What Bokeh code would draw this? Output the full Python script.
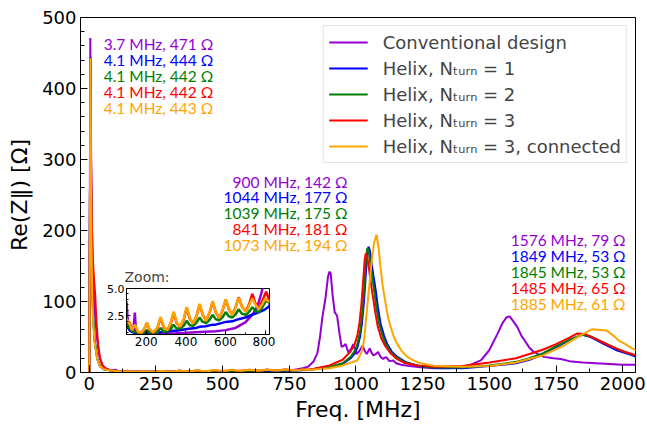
from bokeh.plotting import figure
from bokeh.models import (Range1d, SingleIntervalTicker, FixedTicker, Legend, LegendItem,
                          ColumnDataSource, PrintfTickFormatter)
from bokeh.core.properties import value
from bokeh.embed import file_html
from bokeh.resources import INLINE

# ---------------- data ----------------
series_names = ["Conventional design", "Helix, N\u209c\u1d64\u1d63\u2099 = 1", "Helix, N\u209c\u1d64\u1d63\u2099 = 2",
                "Helix, N\u209c\u1d64\u1d63\u2099 = 3", "Helix, N\u209c\u1d64\u1d63\u2099 = 3, connected"]
series_colors = ["darkviolet", "blue", "green", "red", "orange"]

f_conv = [0, 2, 3.7, 5, 7, 10, 14, 18, 22, 27, 33, 40, 50, 60, 75, 90, 100, 108, 120, 135, 142, 148, 170, 200,
          250, 300, 350, 400, 450, 500, 550, 600, 650, 700, 730, 750, 765, 780, 800, 820, 840, 855, 865, 874, 886,
          895, 900, 905, 912, 920, 929, 938, 946, 955, 961, 966, 972, 981, 990, 996, 1002, 1012, 1025, 1032, 1040,
          1046, 1052, 1058, 1065, 1074, 1083, 1092, 1102, 1108, 1115, 1125, 1140, 1150, 1170, 1200, 1250, 1300,
          1350, 1400, 1430, 1468, 1499, 1530, 1550, 1565, 1576, 1590, 1605, 1620, 1636, 1650, 1667, 1690, 1705,
          1740, 1768, 1800, 1850, 1900, 1950, 2000, 2060]
z_conv = [0, 250, 471, 400, 300, 200, 130, 100, 80, 55, 35, 20, 10, 6, 4, 3.5, 3.8, 1.6, 1.2, 1.1, 2.8, 1.1, 0.95, 0.9,
          0.9, 0.9, 0.92, 0.95, 1.0, 1.05, 1.1, 1.2, 1.4, 1.9, 2.5, 3.0, 3.6, 4.5, 6, 8, 15, 27, 50, 78, 106,
          135, 142, 140, 110, 85, 80, 55, 36, 38, 40, 34, 28, 33, 40, 32, 26, 30, 38, 31, 26,
          30, 34, 28, 24, 26, 29, 22, 19, 21, 21, 16, 17, 13, 11, 9, 7, 6,
          6, 8, 11, 17, 31, 54, 70, 78, 79, 72, 64, 52, 43, 35, 29, 24, 22,
          20, 19, 16, 14, 13, 12, 11, 11]

f_h1 = [0, 2, 4.1, 6, 8, 11, 15, 20, 30, 40, 55, 75, 100, 115, 130, 160, 200, 250, 272, 300, 338, 350, 404, 450,
        469, 500, 535, 550, 601, 634, 666, 700, 735, 770, 800, 820, 850, 900, 950, 980, 995, 1005, 1015, 1022, 1030,
        1037, 1043, 1047, 1052, 1058, 1065, 1073, 1082, 1092, 1105, 1117, 1135, 1155, 1190, 1240, 1300, 1400, 1500,
        1600, 1650, 1700, 1750, 1800, 1849, 1880, 1930, 1980, 2030, 2060]
z_h1 = [0, 200, 444, 300, 190, 120, 75, 45, 19, 9, 4.5, 3, 1.6, 1.2, 1.0, 0.9, 0.9, 0.95, 1.0, 1.05, 1.15, 1.15, 1.3, 1.4,
        1.5, 1.55, 1.7, 1.7, 1.95, 2.0, 2.2, 2.35, 2.6, 2.85, 3.1, 3.35, 5, 7, 12, 20, 27, 35, 50, 68, 100,
        140, 170, 177, 172, 155, 137, 118, 92, 69, 52, 40, 29, 22, 14, 9, 6.5, 6, 9,
        13, 18, 25, 35, 46, 53, 50, 40, 31, 25, 21]

f_h2 = [0, 2, 4.1, 6, 8, 11, 15, 20, 30, 40, 55, 75, 100, 115, 130, 160, 185, 203, 220, 234, 255, 272, 288, 305,
        323, 338, 353, 371, 389, 404, 419, 437, 454, 469, 485, 502, 520, 535, 550, 568, 586, 601, 617, 634, 651,
        666, 683, 703, 720, 735, 751, 768, 786, 805, 820, 850, 900, 950, 980, 995, 1005, 1015, 1022, 1030, 1036,
        1042, 1047, 1053, 1060, 1068, 1077, 1087, 1100, 1112, 1130, 1150, 1185, 1240, 1300, 1400, 1500, 1600,
        1650, 1700, 1750, 1800, 1845, 1880, 1930, 1980, 2030, 2060]
z_h2 = [0, 200, 442, 300, 185, 115, 72, 44, 19, 9, 4.5, 3, 1.8, 1.4, 1.1, 0.95, 0.95, 1.2, 0.95, 0.9, 1.0, 1.4, 1.05, 1.1,
        1.3, 1.7, 1.35, 1.35, 1.6, 2.05, 1.65, 1.6, 1.9, 2.35, 1.95, 1.85, 2.15, 2.6, 2.2, 2.1, 2.4, 2.85, 2.45, 2.35, 2.65,
        3.1, 2.7, 2.6, 2.9, 3.3, 2.95, 2.85, 3.3, 3.9, 3.7, 5.5, 8, 13, 22, 30, 40, 57, 78, 115, 152,
        175, 172, 155, 136, 116, 90, 68, 51, 40, 29, 22, 14, 9, 7, 7, 10, 15,
        20, 27, 37, 46, 53, 51, 42, 33, 26, 23]

f_h3 = [0, 2, 4.1, 6, 9, 13, 18, 22, 27, 33, 40, 50, 65, 80, 100, 115, 128, 143, 158, 175, 190, 203, 216, 234, 255,
        272, 288, 305, 323, 338, 353, 371, 389, 404, 419, 437, 454, 469, 485, 502, 520, 535, 550, 568, 586, 601, 617,
        634, 651, 666, 683, 703, 720, 735, 751, 768, 786, 805, 820, 840, 900, 950, 980, 995, 1005, 1013, 1020, 1027,
        1033, 1037, 1042, 1048, 1055, 1063, 1072, 1082, 1095, 1110, 1130, 1150, 1185, 1230, 1300, 1400, 1500, 1600,
        1650, 1700, 1750, 1800, 1830, 1860, 1900, 1950, 2000, 2060]
z_h3 = [0, 200, 442, 320, 220, 160, 130, 110, 70, 40, 20, 9, 5, 3, 2.0, 1.9, 1.3, 1.6, 1.0, 0.95, 1.3, 1.85, 1.25, 0.95, 1.35,
        2.3, 1.45, 1.2, 1.75, 2.8, 1.85, 1.5, 2.15, 3.25, 2.25, 1.8, 2.5, 3.55, 2.6, 2.05, 2.8, 3.8, 2.85, 2.3, 3.05, 4.0, 3.1,
        2.6, 3.3, 4.2, 3.35, 2.9, 3.6, 4.5, 3.65, 3.15, 3.9, 4.7, 4.0, 4.8, 10, 18, 30, 40, 52, 70, 95, 130,
        160, 168, 163, 148, 128, 108, 85, 64, 48, 37, 27, 20, 13, 10, 8, 9, 14, 20,
        26, 32, 40, 49, 55, 54, 47, 38, 30, 23]

f_h3c = [0, 2, 4.1, 6, 8, 11, 15, 20, 30, 40, 55, 75, 100, 115, 128, 143, 158, 175, 190, 203, 216, 234, 255, 272,
         288, 305, 323, 338, 353, 371, 389, 404, 419, 437, 454, 469, 485, 502, 520, 535, 550, 568, 586, 601, 617,
         634, 651, 666, 683, 703, 720, 735, 751, 768, 786, 800, 815, 830, 900, 950, 1005, 1020, 1030, 1042, 1052,
         1060, 1068, 1077, 1085, 1092, 1100, 1111, 1120, 1130, 1142, 1155, 1172, 1192, 1215, 1242, 1300, 1400,
         1500, 1600, 1700, 1780, 1840, 1886, 1915, 1940, 1965, 1985, 2010, 2035, 2060]
z_h3c = [0, 200, 443, 300, 180, 111, 70, 42, 18, 9, 4.5, 3, 2.2, 1.8, 1.2, 1.7, 1.05, 0.95, 1.3, 1.9, 1.3, 1.0, 1.4, 2.4,
         1.55, 1.2, 1.85, 2.9, 1.95, 1.5, 2.25, 3.3, 2.35, 1.8, 2.55, 3.6, 2.65, 2.05, 2.85, 3.85, 2.9, 2.3, 3.1, 4.0, 3.15,
         2.55, 3.3, 4.15, 3.35, 2.85, 3.5, 4.1, 3.55, 3.1, 3.6, 4.1, 3.85, 3.8, 6, 10, 17, 28, 45, 92, 130,
         160, 183, 194, 175, 148, 122, 97, 78, 64, 50, 40, 30, 22, 17, 13, 9, 8,
         9, 14, 24, 38, 52, 61, 60, 59, 52, 45, 40, 34, 30]

series_f = [f_conv, f_h1, f_h2, f_h3, f_h3c]
series_z = [z_conv, z_h1, z_h2, z_h3, z_h3c]

# peak annotations
ann_low = ["3.7 MHz, 471 \u03a9", "4.1 MHz, 444 \u03a9", "4.1 MHz, 442 \u03a9", "4.1 MHz, 442 \u03a9", "4.1 MHz, 443 \u03a9"]
ann_mid = ["900 MHz, 142 \u03a9", "1044 MHz, 177 \u03a9", "1039 MHz, 175 \u03a9", "841 MHz, 181 \u03a9", "1073 MHz, 194 \u03a9"]
ann_high = ["1576 MHz, 79 \u03a9", "1849 MHz, 53 \u03a9", "1845 MHz, 53 \u03a9", "1485 MHz, 65 \u03a9", "1885 MHz, 61 \u03a9"]

FONT = "DejaVu Sans"

# ---------------- main figure ----------------
fig = figure(width=646, height=427, x_range=Range1d(-33, 2048), y_range=Range1d(0, 500),
             output_backend="svg", toolbar_location=None,
             min_border_left=80, min_border_right=11, min_border_top=17, min_border_bottom=55)
fig.xgrid.grid_line_color = None
fig.ygrid.grid_line_color = None
fig.outline_line_color = "black"
fig.outline_line_width = 1
fig.outline_line_alpha = 1

renderers = []
for f, z, c in zip(series_f, series_z, series_colors):
    src = ColumnDataSource(dict(f=f, z=z))
    r = fig.line("f", "z", source=src, line_color=c, line_width=2)
    renderers.append(r)

fig.xaxis.ticker = SingleIntervalTicker(interval=250, num_minor_ticks=2)
fig.yaxis.ticker = SingleIntervalTicker(interval=100, num_minor_ticks=5)
for ax in (fig.xaxis, fig.yaxis):
    ax.major_tick_in = 7
    ax.major_tick_out = 0
    ax.minor_tick_in = 4
    ax.minor_tick_out = 0
    ax.axis_line_color = "black"
    ax.major_tick_line_color = "black"
    ax.minor_tick_line_color = "black"
    ax.major_label_text_font = FONT
    ax.major_label_text_font_size = "18px"
    ax.major_label_text_color = "black"
    ax.major_label_standoff = 4
    ax.axis_label_text_font = FONT
    ax.axis_label_text_font_size = "22px"
    ax.axis_label_text_font_style = "normal"
    ax.axis_label_text_color = "black"
fig.xaxis.axis_label_standoff = 4
fig.yaxis.axis_label_standoff = 7
fig.xaxis.axis_label = "Freq. [MHz]"
fig.yaxis.axis_label = "Re(Z\u2016) [\u03a9]"

# annotations
ann_src_low = ColumnDataSource(dict(x=[54] * 5, y=[463 - 22.5 * i for i in range(5)], t=ann_low, c=series_colors))
ann_src_mid = ColumnDataSource(dict(x=[968] * 5, y=[269 - 22.5 * i for i in range(5)], t=ann_mid, c=series_colors))
ann_src_high = ColumnDataSource(dict(x=[2011] * 5, y=[187 - 22.5 * i for i in range(5)], t=ann_high, c=series_colors))
for src, al in ((ann_src_low, "left"), (ann_src_mid, "right"), (ann_src_high, "right")):
    fig.text(x="x", y="y", text="t", text_color="c", source=src, text_font=value("Lato"),
             text_font_size="15.5px", text_align=al, text_baseline="middle")

legend = Legend(items=[LegendItem(label=n, renderers=[r]) for n, r in zip(series_names, renderers)],
                location="top_right", label_text_font=FONT, label_text_font_size="18px",
                glyph_width=39, glyph_height=22, label_height=22, label_standoff=15, spacing=4,
                padding=5, margin=8, border_line_color="#cccccc", border_line_width=1,
                background_fill_color="white", background_fill_alpha=1)
fig.add_layout(legend)

# ---------------- inset ----------------
inset = figure(width=175, height=92, x_range=Range1d(100, 822), y_range=Range1d(0.8, 5.0),
               output_backend="svg", toolbar_location=None, title="Zoom:",
               min_border_left=26, min_border_right=6, min_border_top=26, min_border_bottom=20)
inset.styles = {"position": "absolute", "left": "100px", "top": "262px"}
inset.border_fill_alpha = 0
inset.background_fill_color = "white"
inset.outline_line_color = "black"
inset.xgrid.grid_line_color = None
inset.ygrid.grid_line_color = None
inset.title.text_font = FONT
inset.title.text_font_size = "14px"
inset.title.text_font_style = "normal"
inset.title.standoff = 8
inset.title.offset = -2
for f, z, c in zip(series_f, series_z, series_colors):
    src = ColumnDataSource(dict(f=f, z=z))
    inset.line("f", "z", source=src, line_color=c, line_width=2.5)
inset.xaxis.ticker = FixedTicker(ticks=[200, 400, 600, 800], minor_ticks=[100, 300, 500, 700])
inset.yaxis.ticker = FixedTicker(ticks=[2.5, 5.0], minor_ticks=[1.0, 1.5, 2.0, 3.0, 3.5, 4.0, 4.5])
inset.yaxis.formatter = PrintfTickFormatter(format="%.1f")
for ax in (inset.xaxis, inset.yaxis):
    ax.major_tick_in = 4
    ax.major_tick_out = 0
    ax.minor_tick_in = 2
    ax.minor_tick_out = 0
    ax.major_label_text_font = FONT
    ax.major_label_text_color = "black"
    ax.major_label_standoff = 2
    ax.axis_line_color = "black"
inset.xaxis.major_label_text_font_size = "12px"
inset.yaxis.major_label_text_font_size = "11px"

p = [fig, inset]
open("out.html", "w").write(file_html(p, INLINE))
